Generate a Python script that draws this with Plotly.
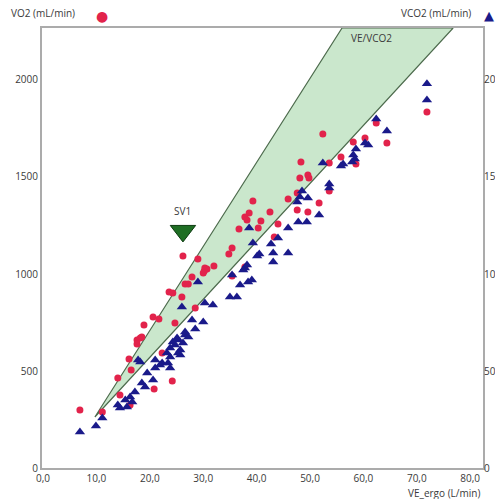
import plotly.graph_objects as go

# Oxygen uptake (VO2) against ventilation
ve_vo2 = [6.9, 11.1, 14.4, 14.0, 16.5, 16.1, 17.6, 18.2, 17.6, 18.5, 22.3, 24.2, 20.8, 16.3,
          18.9, 20.6, 21.7, 24.7, 23.6, 24.3, 26.0, 26.6, 27.2, 27.9, 28.5, 26.2, 29.0, 30.2,
          30.7, 32.0, 30.3, 30.0, 34.8, 35.4, 35.4, 37.8, 36.7, 40.3, 38.6, 37.8, 38.2, 40.8,
          39.3, 42.5, 44.0, 43.3, 45.9, 47.6, 47.6, 49.6, 51.7, 48.1, 49.6, 49.8, 48.3, 52.4,
          53.6, 55.8, 58.6, 53.6, 58.1, 60.3, 62.4, 64.4, 71.9]
vo2 = [299, 289, 376, 464, 505, 562, 660, 670, 639, 675, 593, 448, 407, 325,
       737, 778, 768, 747, 907, 902, 881, 948, 948, 985, 825, 1093, 1077, 1015,
       1026, 1041, 1031, 1005, 1103, 1134, 990, 1036, 1232, 1237, 1314, 1294, 1278, 1273,
       1376, 1320, 1258, 1191, 1387, 1418, 1330, 1320, 1366, 1495, 1510, 1495, 1577, 1722,
       1572, 1603, 1567, 1428, 1680, 1701, 1778, 1675, 1835]

# CO2 output (VCO2) against ventilation
ve_vco2 = [6.9, 9.9, 11.1, 14.4, 14.0, 15.4, 16.3, 16.7, 15.7, 17.2, 18.5, 19.1, 19.5, 20.6,
           18.2, 21.0, 22.3, 23.4, 23.8, 24.7, 25.3, 26.2, 26.6, 25.7, 29.0, 26.0, 30.3, 31.8,
           27.9, 30.0, 28.5, 26.6, 27.2, 25.1, 24.3, 23.8, 25.7, 25.3, 23.2, 17.8, 21.9, 21.0,
           23.8, 35.0, 36.3, 36.9, 38.4, 39.1, 35.4, 37.8, 38.2, 40.1, 48.5, 47.6, 49.6, 48.1,
           38.6, 45.9, 47.8, 49.4, 51.7, 44.0, 42.7, 39.3, 40.5, 43.1, 43.1, 45.9, 37.5, 62.4,
           64.4, 60.9, 60.3, 58.6, 58.1, 58.4, 57.9, 56.2, 55.8, 52.4, 53.6, 53.6, 71.9, 71.9]
vco2 = [186, 216, 258, 309, 325, 351, 366, 340, 314, 392, 438, 418, 490, 454,
        546, 557, 541, 541, 572, 634, 660, 644, 686, 583, 959, 830, 850, 840,
        763, 753, 716, 701, 675, 670, 650, 619, 608, 593, 593, 557, 531, 515,
        515, 881, 881, 943, 959, 969, 995, 1031, 1046, 1093, 1428, 1371, 1392, 1397,
        1237, 1237, 1268, 1268, 1304, 1186, 1155, 1160, 1103, 1108, 1062, 1108, 1021, 1799,
        1737, 1665, 1675, 1644, 1613, 1593, 1577, 1567, 1557, 1572, 1464, 1443, 1980, 1897]

# VE/VCO2 band: apex, then the upper and lower bounds at the top of the axis
band_x = [9.7, 56.0, 76.8, 9.7]
band_y = [263, 2268, 2268, 263]

# First ventilatory threshold
sv1_x = [26.2]
sv1_y = [1222]

x_ticks = [0, 10, 20, 30, 40, 50, 60, 70, 80]
x_tick_labels = ["0,0", "10,0", "20,0", "30,0", "40,0", "50,0", "60,0", "70,0", "80,0"]
y_ticks = [0, 500, 1000, 1500, 2000]
y_tick_labels = ["0", "500", "1000", "1500", "2000"]

X_RANGE = [-0.2, 82.4]
Y_RANGE = [0, 2268]
FONT = "Open Sans"
TEXT = "#3a3a3a"
FRAME = "#ababab"

fig = go.Figure()

fig.add_trace(go.Scatter(
    x=band_x, y=band_y, mode="lines", fill="toself",
    fillcolor="rgba(196,228,198,0.9)",
    line=dict(color="#4d6b4d", width=1.2),
    hoverinfo="skip", showlegend=False))

fig.add_trace(go.Scatter(
    x=ve_vo2, y=vo2, mode="markers", name="VO2 (mL/min)",
    marker=dict(symbol="circle", size=7, color="#e2234b", line=dict(width=0)),
    showlegend=False))

fig.add_trace(go.Scatter(
    x=ve_vco2, y=vco2, mode="markers", name="VCO2 (mL/min)",
    marker=dict(symbol="triangle-up", size=9, color="#1a1a8a", line=dict(width=0)),
    showlegend=False))

fig.add_trace(go.Scatter(
    x=sv1_x, y=sv1_y, mode="markers",
    marker=dict(symbol="triangle-down", size=22, color="#1f6e24",
                line=dict(color="#0e3b12", width=1)),
    hoverinfo="skip", showlegend=False))

# invisible trace to carry the right-hand VCO2 axis
fig.add_trace(go.Scatter(x=[None], y=[None], yaxis="y2", showlegend=False))

annotations = [
    dict(x=sv1_x[0], y=sv1_y[0], text="SV1", showarrow=False, yshift=20,
         font=dict(family=FONT, size=10, color=TEXT)),
    dict(x=61.6, y=2217, text="VE/VCO2", showarrow=False,
         font=dict(family=FONT, size=10, color=TEXT)),
    dict(xref="paper", yref="paper", x=1.0, y=0, xanchor="right", yanchor="top",
         yshift=-16, xshift=-1, text="VE_ergo (L/min)", showarrow=False,
         font=dict(family=FONT, size=10, color=TEXT)),
    dict(xref="paper", yref="paper", x=0, y=1, xanchor="left", yanchor="bottom",
         xshift=-33, yshift=6, text="VO2 (mL/min)", showarrow=False,
         font=dict(family=FONT, size=10, color=TEXT)),
    dict(xref="paper", yref="paper", x=0, y=1, xanchor="center", yanchor="bottom",
         xshift=60, yshift=2, text="●", showarrow=False,
         font=dict(family="DejaVu Sans", size=14, color="#e2234b")),
    dict(xref="paper", yref="paper", x=1, y=1, xanchor="right", yanchor="bottom",
         xshift=-10, yshift=6, text="VCO2 (mL/min)", showarrow=False,
         font=dict(family=FONT, size=10, color=TEXT)),
    dict(xref="paper", yref="paper", x=1, y=1, xanchor="center", yanchor="bottom",
         xshift=6, yshift=3, text="▲", showarrow=False,
         font=dict(family="DejaVu Sans", size=13, color="#1a1a8a")),
]

fig.update_layout(
    width=495, height=499,
    margin=dict(l=42, r=12, t=28, b=31, autoexpand=False),
    paper_bgcolor="white", plot_bgcolor="white",
    font=dict(family=FONT, size=10, color=TEXT),
    annotations=annotations,
    xaxis=dict(range=X_RANGE, tickvals=x_ticks, ticktext=x_tick_labels,
               showgrid=False, zeroline=False, showline=True, mirror=True,
               linecolor=FRAME, linewidth=2, ticks="", automargin=False),
    yaxis=dict(range=Y_RANGE, tickvals=y_ticks, ticktext=y_tick_labels,
               showgrid=False, zeroline=False, showline=True, mirror=True,
               linecolor=FRAME, linewidth=2, ticks="", automargin=False),
    yaxis2=dict(range=Y_RANGE, tickvals=y_ticks, ticktext=y_tick_labels,
                overlaying="y", side="right", showgrid=False, zeroline=False,
                showline=False, ticks="", automargin=False),
)

fig.write_html("out.html")
